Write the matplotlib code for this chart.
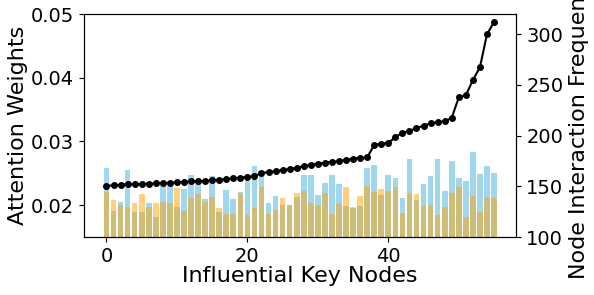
import matplotlib
matplotlib.use("Agg")
import matplotlib.pyplot as plt
import numpy as np

nodes = list(range(56))
attn_a = [0.0259, 0.0191, 0.0205, 0.0255, 0.0189, 0.0190, 0.0204, 0.0181, 0.0231, 0.0230,
          0.0197, 0.0225, 0.0248, 0.0234, 0.0210, 0.0245, 0.0189, 0.0224, 0.0209, 0.0221,
          0.0238, 0.0262, 0.0247, 0.0203, 0.0214, 0.0200, 0.0200, 0.0213, 0.0247, 0.0248,
          0.0216, 0.0234, 0.0247, 0.0233, 0.0199, 0.0195, 0.0198, 0.0258, 0.0263, 0.0216,
          0.0248, 0.0242, 0.0212, 0.0273, 0.0208, 0.0233, 0.0246, 0.0273, 0.0222, 0.0269,
          0.0242, 0.0238, 0.0284, 0.0249, 0.0261, 0.0251]
attn_b = [0.0220, 0.0208, 0.0201, 0.0197, 0.0203, 0.0217, 0.0197, 0.0204, 0.0205, 0.0203,
          0.0227, 0.0191, 0.0211, 0.0217, 0.0205, 0.0213, 0.0195, 0.0186, 0.0186, 0.0219,
          0.0185, 0.0195, 0.0228, 0.0186, 0.0192, 0.0212, 0.0200, 0.0219, 0.0222, 0.0204,
          0.0201, 0.0219, 0.0186, 0.0202, 0.0229, 0.0197, 0.0214, 0.0230, 0.0220, 0.0225,
          0.0222, 0.0228, 0.0188, 0.0219, 0.0217, 0.0199, 0.0201, 0.0184, 0.0197, 0.0219,
          0.0229, 0.0182, 0.0214, 0.0189, 0.0213, 0.0211]
freq = [150.5, 150.8, 151.5, 152.0, 152.0, 152.2, 152.5, 152.8, 153.0, 153.3,
        154.0, 154.2, 154.8, 155.0, 155.3, 156.0, 156.5, 157.0, 157.8, 158.5,
        159.3, 160.0, 163.0, 164.0, 165.0, 166.0, 167.0, 168.0, 170.0, 171.3,
        172.2, 173.2, 174.0, 175.0, 176.0, 177.3, 178.0, 178.5, 190.6, 192.0,
        192.6, 198.5, 202.8, 204.4, 207.5, 209.7, 212.0, 213.0, 214.0, 217.5,
        237.6, 239.6, 254.7, 267.2, 299.7, 311.8]

fig = plt.figure(figsize=(5.94, 2.95), dpi=100)
ax = fig.add_axes([0.1414, 0.1966, 0.7281, 0.7559])
ax.bar(nodes, attn_a, color='skyblue', alpha=0.8)
ax.bar(nodes, attn_b, color='orange', alpha=0.5)
ax.set_ylim(0.015, 0.05)
ax.set_yticks([0.02, 0.03, 0.04, 0.05])
ax.set_xticks([0, 20, 40])
ax.set_xlabel('Influential Key Nodes', fontsize=16, labelpad=0)
ax.set_ylabel('Attention Weights', fontsize=16, labelpad=2)
ax.tick_params(labelsize=14)

ax2 = ax.twinx()
ax2.plot(nodes, freq, color='black', marker='o', markersize=4, linewidth=1.5)
ax2.set_ylim(100, 319.8)
ax2.set_yticks([100, 150, 200, 250, 300])
ax2.set_ylabel('Node Interaction Frequency', fontsize=16)
ax2.tick_params(labelsize=14)

fig.savefig('out.png', dpi=100)
